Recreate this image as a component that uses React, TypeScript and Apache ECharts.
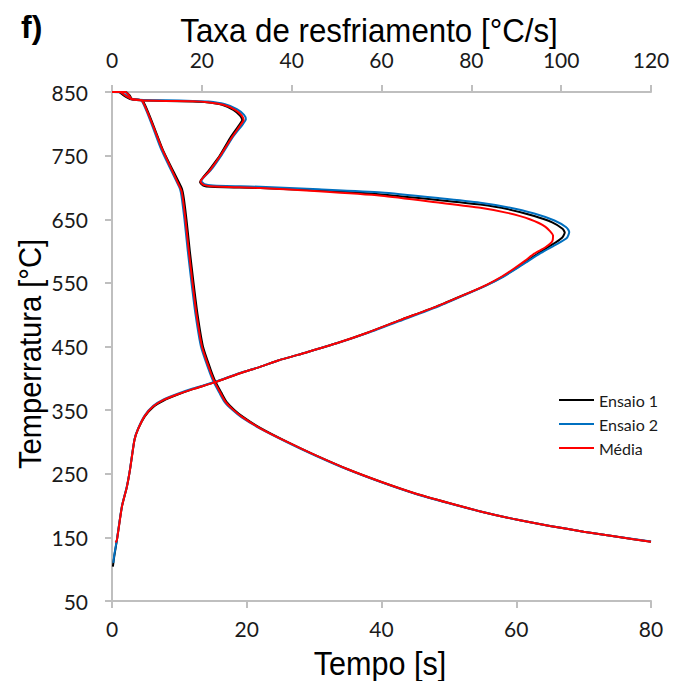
import React, { useEffect, useRef } from "react";
import * as echarts from "echarts";

// Temperature vs time (bottom axis, Tempo [s])
const tempoEnsaio1: number[][] = [[0,850],[2.0,850],[2.6,845],[3.0,839],[4.6,836],[7.6,758],[10.3,700],[10.5,693],[10.7,680],[11.05,650],[11.55,600],[12.1,550],[12.7,500],[13.5,450],[14.6,415],[15.3,396],[16.2,378],[17.0,363],[18.2,350],[19.5,339],[22,322],[26,300],[30,280],[35,257],[40,237],[45,219],[50,204],[55,190],[60,178],[65,168],[70,159],[75,151],[80,143]];
const tempoEnsaio2: number[][] = [[0,850],[1.9,850],[2.4,845],[2.8,839],[4.4,836.5],[7.3,760],[10.0,700],[10.2,693],[10.4,680],[10.75,650],[11.25,600],[11.8,550],[12.4,500],[13.2,450],[14.3,415],[15.0,396],[15.9,378],[16.7,363],[17.9,350],[19.2,339],[22,321],[26,299.5],[30,279.5],[35,256.5],[40,236.5],[45,218.5],[50,203.5],[55,190],[60,178],[65,168],[70,159],[75,151],[80,143.5]];
const tempoMedia: number[][] = [[0,850],[2.0,850],[2.5,845],[2.9,839],[4.5,836],[7.5,759],[10.1,700],[10.35,693],[10.55,680],[10.9,650],[11.4,600],[11.95,550],[12.55,500],[13.35,450],[14.45,415],[15.15,396],[16.05,378],[16.85,363],[18.05,350],[19.35,339],[22,321.5],[26,300],[30,280],[35,257],[40,237],[45,219],[50,204],[55,190],[60,178],[65,168],[70,159],[75,151],[80,143]];

// Temperature vs cooling rate (top axis, Taxa de resfriamento [°C/s])
const taxaEnsaio1: number[][] = [[0,850],[1.5,850],[2.5,845],[4.0,839],[6,837],[12,836],[18,835],[21,834],[24.5,830],[27,822],[28.5,813],[29,806],[28.5,800],[26.5,780],[24,750],[21.5,726],[19.6,708],[20.3,703],[22,701],[33,699],[46,695],[60,689],[73,680],[82,673],[88,666],[94,655],[98,645],[100.3,635],[100.8,629],[100.2,621],[98,610],[95,597],[92.5,585],[90,573],[87,560],[83.5,547],[79,533],[73,515],[64,491],[57,472],[50,455],[43.4,441],[37,428],[33,418],[28.5,408],[23,394],[18,383],[14.5,374],[11.5,365],[9.2,355],[7.3,340],[5.8,320],[5,303],[4.0,256],[3.3,229],[2.2,198],[1.1,146],[0.5,120],[0.2,104]];
const taxaEnsaio2: number[][] = [[0,850],[2,849.5],[3,845],[4.5,839],[7,837.5],[12,837],[18,836],[21.5,835],[25,831],[27.8,823],[29.4,814],[29.8,807],[29.2,800],[27,780],[24.5,752],[22,727],[19.9,710],[20.6,705],[22.5,703],[33,701],[46,697],[60,692],[73,683],[82,676],[88,669],[94,659],[98.5,648],[101.2,637],[101.8,630],[101.2,620],[98.5,609],[95.5,597],[92.8,585],[90.2,573],[87.2,560],[83.6,547],[79,532.5],[73,514],[64,490],[57,471.5],[50,455],[43.4,441],[37,428],[33,418],[28.5,408.5],[23,394.5],[18,384],[14.5,375.5],[11.5,367],[9.2,357],[7.3,342],[5.8,321],[5,304],[4.0,257],[3.3,230],[2.2,199],[1.1,147],[0.5,122],[0.3,110]];
const taxaMedia: number[][] = [[0,850],[1.8,850],[2.8,845],[4.3,839],[6.5,837],[12,836],[18,835.5],[21.3,834],[24.8,830],[27.4,822],[28.9,813],[29.3,806],[28.8,800],[26.8,780],[24.2,751],[21.7,726],[19.7,709],[20.4,704],[22,702],[33,699],[46,694],[60,687],[73,676],[82,668],[88,660],[93,650],[96.5,638],[98.2,624],[98,615],[96.5,606],[94,596],[92,585],[89.6,573],[86.8,560],[83.4,547],[79,533],[73,515],[64,491],[57,472],[50,455],[43.4,441],[37,428],[33,418],[28.5,408],[23,394],[18,383],[14.5,374.5],[11.5,366],[9.2,356],[7.3,341],[5.8,320],[5,303],[4.0,256],[3.3,229],[2.2,198],[1.1,146],[0.8,142]];

const seriesNames = ["Ensaio 1", "Ensaio 2", "Média"];
const seriesColors = ["#000000", "#0070c0", "#ff0000"];

const tickFont = "Lato, 'Open Sans', sans-serif";
const titleFont = "'Liberation Sans', Arial, sans-serif";

export default function App() {
  const ref = useRef<HTMLDivElement>(null);
  useEffect(() => {
    if (!ref.current) return;
    const chart = echarts.init(ref.current, null, { renderer: "svg" });
    const axisColor = "#bfbfbf";
    const tempoData = [tempoEnsaio1, tempoEnsaio2, tempoMedia];
    const taxaData = [taxaEnsaio1, taxaEnsaio2, taxaMedia];
    const series: any[] = [];
    seriesNames.forEach((name, i) => {
      series.push({
        name, type: "line", xAxisIndex: 0, yAxisIndex: 0, data: tempoData[i],
        showSymbol: false, symbol: "none", smooth: 0.2, lineStyle: { color: seriesColors[i], width: 2 },
        itemStyle: { color: seriesColors[i] }, z: 2 + i,
      });
      series.push({
        name, type: "line", xAxisIndex: 1, yAxisIndex: 0, data: taxaData[i],
        showSymbol: false, symbol: "none", smooth: 0.2, lineStyle: { color: seriesColors[i], width: 2 },
        itemStyle: { color: seriesColors[i] }, z: 2 + i,
      });
    });
    chart.setOption({
      animation: false,
      backgroundColor: "#ffffff",
      grid: { left: 112, right: 22, top: 92, bottom: 80 },
      legend: {
        data: seriesNames, orient: "vertical", left: 554, top: 387,
        icon: "rect", itemWidth: 35, itemHeight: 2, itemGap: 8,
        textStyle: { fontFamily: tickFont, fontSize: 16, color: "#1a1a1a" },
      },
      graphic: [
        { type: "text", x: 21, y: 27, style: { text: "f)", font: "bold 32px 'Liberation Sans', Arial, sans-serif", fill: "#000", align: "left", verticalAlign: "middle", textAlign: "left", textVerticalAlign: "middle" } },
        { type: "text", x: 369, y: 30, scaleX: 0.92, style: { text: "Taxa de resfriamento [°C/s]", font: `34px ${titleFont}`, fill: "#000", align: "center", verticalAlign: "middle", textAlign: "center", textVerticalAlign: "middle" } },
        { type: "text", x: 380, y: 663, scaleX: 0.9, style: { text: "Tempo [s]", font: `34px ${titleFont}`, fill: "#000", align: "center", verticalAlign: "middle", textAlign: "center", textVerticalAlign: "middle" } },
        { type: "text", x: 30, y: 354, rotation: Math.PI / 2, scaleX: 0.94, style: { text: "Temperratura [°C]", font: `31px ${titleFont}`, fill: "#000", align: "center", verticalAlign: "middle", textAlign: "center", textVerticalAlign: "middle" } },
      ],
      xAxis: [
        {
          type: "value", position: "bottom", min: 0, max: 80, interval: 20,
          axisLine: { show: true, lineStyle: { color: axisColor, width: 2 } },
          axisTick: { show: true, length: 7, lineStyle: { color: axisColor, width: 2 } },
          axisLabel: { fontFamily: tickFont, fontSize: 21, color: "#1a1a1a", margin: 17 },
          splitLine: { show: false },
        },
        {
          type: "value", position: "top", min: 0, max: 120, interval: 20,
          axisLine: { show: true, onZero: false, lineStyle: { color: axisColor, width: 2 } },
          axisTick: { show: true, length: 7, lineStyle: { color: axisColor, width: 2 } },
          axisLabel: { fontFamily: tickFont, fontSize: 21, color: "#1a1a1a", margin: 22 },
          splitLine: { show: false },
        },
      ],
      yAxis: [
        {
          type: "value", min: 50, max: 850, interval: 100,
          axisLine: { show: true, onZero: false, lineStyle: { color: axisColor, width: 2 } },
          axisTick: { show: true, length: 7, lineStyle: { color: axisColor, width: 2 } },
          axisLabel: { fontFamily: tickFont, fontSize: 21, color: "#1a1a1a", margin: 24 },
          splitLine: { show: false },
        },
      ],
      series,
    });
    return () => chart.dispose();
  }, []);
  return <div ref={ref} style={{ width: 673, height: 681, position: "absolute", left: 0, top: 0 }} />;
}
